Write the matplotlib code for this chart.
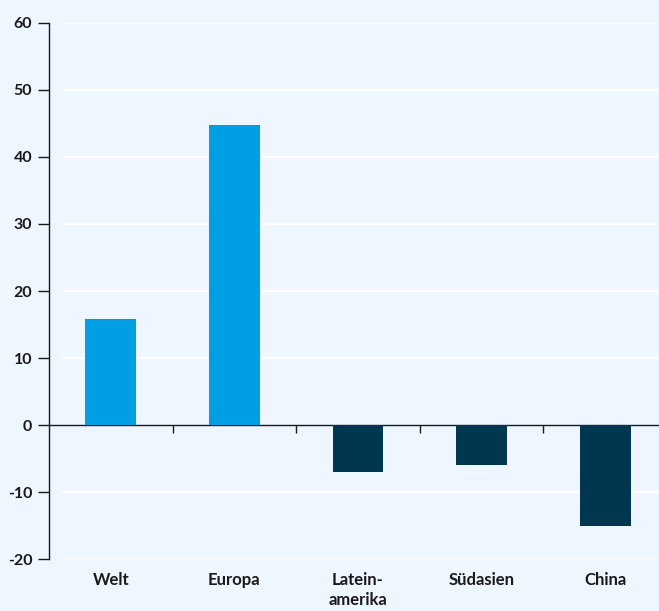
import matplotlib
matplotlib.use("Agg")
import matplotlib.pyplot as plt

categories = ["Welt", "Europa", "Latein-\namerika", "Südasien", "China"]
values = [15.8, 44.8, -7.0, -5.9, -15.0]
yticks = [-20, -10, 0, 10, 20, 30, 40, 50, 60]

bg = "#EEF6FF"
light = "#009FE3"
dark = "#003650"
txt = "#1a1a1a"

plt.rcParams['font.family'] = ['Lato', 'DejaVu Sans']
plt.rcParams['font.weight'] = 'bold'

fig = plt.figure(figsize=(6.59, 6.11), dpi=100, facecolor=bg)
ax = fig.add_axes([49/659, 51.7/611, 618/659, (559.3-22.7)/611])
ax.set_facecolor(bg)

x = list(range(len(categories)))
colors = [light if v >= 0 else dark for v in values]
ax.bar(x, values, width=0.41, color=colors, zorder=3)

ax.set_xlim(-0.5, len(categories) - 0.5)
ax.set_ylim(-20, 60)

for t in yticks:
    if t != 0:
        ax.axhline(t, xmin=14/618, xmax=1, color="white", lw=1.6, zorder=1)

ax.spines['top'].set_visible(False)
ax.spines['right'].set_visible(False)
ax.spines['bottom'].set_visible(False)
ax.spines['left'].set_color(txt)
ax.spines['left'].set_linewidth(1.0)

ax.set_yticks(yticks)
ax.set_yticklabels([str(t) for t in yticks], fontsize=11.5, fontweight='bold', color=txt)
ax.tick_params(axis='y', length=8, width=1, color=txt, pad=4)

ax.set_xticks(x)
ax.set_xticklabels(categories, fontsize=12, fontweight='bold', color=txt, linespacing=1.3)
ax.tick_params(axis='x', length=0, pad=9)

sec = ax.secondary_xaxis(20/80)
sec.spines['bottom'].set_color(txt)
sec.spines['bottom'].set_linewidth(1.0)
sec.set_xticks([i + 0.5 for i in x[:-1]])
sec.set_xticklabels([])
sec.tick_params(axis='x', length=6, width=1, color=txt, direction='out')

fig.savefig("out.png", dpi=100, facecolor=bg)
